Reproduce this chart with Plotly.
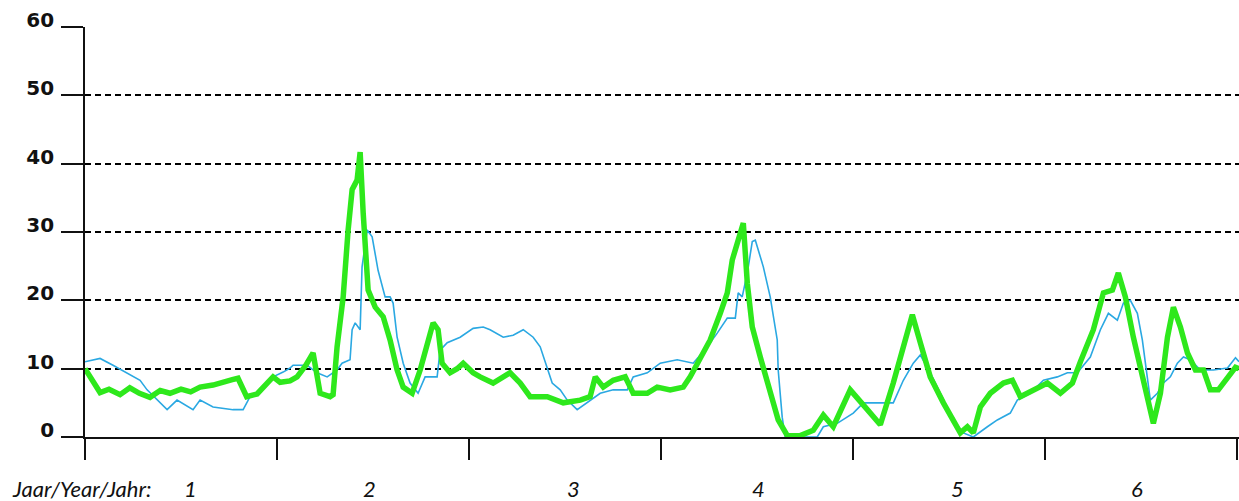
import plotly.graph_objects as go

# x in months since start (12 months per year), y values
green_x = [0, 0.5, 0.94, 1.5, 2.19, 2.8, 3.4, 4.06, 4.7, 5.31, 6, 6.6, 7.19, 8, 8.6, 9.2, 9.56,
           10.1, 10.75, 11.2, 11.75, 12.19, 12.81, 13.25, 13.8, 14.25, 14.69, 15.31, 15.5, 15.75,
           16.13, 16.44, 16.69, 17, 17.19, 17.38, 17.69, 18.13, 18.63, 19.06, 19.5, 19.88, 20.44,
           20.94, 21.38, 21.75, 22.06, 22.31, 22.81, 23.25, 23.63, 24.25, 24.69, 25.5, 26.56, 27.19,
           27.81, 28.88, 29.88, 30.94, 31.56, 31.88, 32.38, 33, 33.75, 34.25, 35.13, 35.75, 36.56,
           37.38, 37.81, 38.44, 39.06, 39.69, 40.13, 40.44, 40.75, 41.06, 41.13, 41.38, 41.69,
           42.19, 42.81, 43.31, 43.88, 44.69, 45.5, 46.13, 46.75, 47.81, 48.88, 49.69, 50.5, 51.13,
           51.69, 52.19, 52.81, 53.63, 54.69, 55.13, 55.5, 55.94, 56.56, 57.38, 57.94, 58.44, 59.25,
           60.13, 60.94, 61.69, 62.19, 63, 63.63, 64.19, 64.56, 65, 65.5, 66.06, 66.44, 66.75,
           67.19, 67.63, 68, 68.44, 68.88, 69.38, 69.88, 70.31, 70.81, 71.38, 71.88, 72.1]
green_y = [10.0, 8.0, 6.5, 7.0, 6.2, 7.2, 6.4, 5.8, 6.8, 6.4, 7.0, 6.6, 7.3, 7.6, 7.9, 8.4, 8.6,
           5.9, 6.3, 7.4, 8.8, 8.0, 8.2, 8.8, 10.5, 12.3, 6.4, 5.9, 6.2, 13.2,
           20.5, 30.3, 36.2, 37.6, 41.7, 32.8, 21.5, 19.0, 17.6, 14.2, 9.8, 7.3, 6.4,
           9.8, 13.2, 16.7, 15.7, 10.8, 9.4, 10.0, 10.8, 9.4, 8.8, 7.9, 9.4, 7.9,
           5.9, 5.9, 5.0, 5.4, 5.9, 8.8, 7.3, 8.3, 8.8, 6.4, 6.4, 7.3, 6.9,
           7.3, 8.8, 11.7, 14.2, 18.1, 21.1, 25.9, 28.4, 30.7, 31.3, 22.5, 16.1,
           11.7, 6.9, 2.5, 0.2, 0.2, 1.0, 3.2, 1.5, 6.9, 4.0, 1.8, 7.9, 13.2,
           17.9, 13.8, 8.8, 5.0, 0.6, 1.5, 0.6, 4.4, 6.4, 7.9, 8.3, 5.9, 6.9,
           7.9, 6.4, 7.9, 11.0, 15.7, 21.1, 21.5, 24.0, 20.5, 14.6, 8.8, 5.4, 2.0,
           6.4, 14.6, 19.0, 16.1, 12.3, 9.8, 9.8, 6.9, 6.9, 8.8, 10.2, 10.0]

blue_x = [0, 0.94, 1.75, 2.63, 3.44, 3.88, 4.69, 5.13, 5.75, 6.75, 7.19, 8, 9.25, 9.88, 10.31,
          10.94, 11.75, 12.38, 12.81, 13, 13.88, 14.5, 15.13, 15.75, 16.06, 16.56, 16.69, 16.88,
          17.19, 17.31, 17.63, 17.94, 18.31, 18.75, 19.06, 19.25, 19.5, 19.88, 20.31, 20.81,
          21.25, 22, 22.19, 22.63, 23.44, 24.25, 24.88, 25.31, 26.13, 26.75, 27.38, 28, 28.44,
          28.88, 29.19, 29.69, 30.13, 30.75, 31.38, 32.19, 33, 33.88, 34.25, 35.13, 35.94, 37,
          38, 38.88, 39.5, 40.13, 40.63, 40.81, 41.06, 41.38, 41.69, 41.88, 42.38, 42.81, 43.25,
          43.31, 43.56, 43.75, 45.75, 46.13, 47, 48, 48.63, 50.5, 51.13, 51.75, 52.19, 52.81,
          53.44, 54.25, 54.88, 55.5, 56.38, 57, 57.81, 58.25, 59.06, 59.88, 60.75, 61.38, 62,
          62.81, 63.44, 63.94, 64.5, 64.88, 65.31, 65.75, 66.06, 66.38, 66.56, 67, 67.38, 67.81,
          68.25, 68.63, 69.06, 69.69, 70.5, 71.38, 71.88, 72.1]
blue_y = [11.0, 11.5, 10.5, 9.4, 8.3, 6.9, 5.0, 4.0, 5.4, 4.0, 5.4, 4.4, 4.0, 4.0, 5.9,
          6.9, 8.8, 9.5, 10.1, 10.5, 10.5, 9.4, 8.8, 9.8, 10.8, 11.3, 15.7, 16.7,
          15.7, 24.9, 30.3, 29.3, 24.4, 20.5, 20.5, 19.6, 14.6, 10.8, 7.9, 6.4,
          8.8, 8.8, 12.7, 13.8, 14.6, 15.9, 16.1, 15.7, 14.6, 14.9, 15.7, 14.6, 13.2,
          10.2, 7.9, 6.9, 5.4, 4.0, 5.0, 6.4, 6.9, 6.9, 8.8, 9.4, 10.8, 11.3,
          10.8, 13.2, 15.2, 17.4, 17.4, 21.1, 20.5, 24.0, 28.6, 28.8, 24.9, 20.5, 14.2,
          9.8, 2.9, 0.0, 0.0, 1.5, 2.0, 3.5, 5.0, 5.0, 8.3, 10.8, 12.0, 9.4,
          6.4, 2.5, 0.6, 0.0, 1.5, 2.5, 3.5, 5.4, 6.4, 8.3, 8.8, 9.4, 9.4,
          11.7, 15.7, 18.1, 17.1, 19.6, 20.0, 18.1, 14.2, 8.8, 5.4, 6.4, 7.9, 8.8,
          10.8, 11.7, 11.3, 9.8, 9.8, 10.1, 11.6, 11.0]

y_ticks = [0, 10, 20, 30, 40, 50, 60]
x_ticks = [0, 12, 24, 36, 48, 60, 72]
year_labels = ["1", "2", "3", "4", "5", "6"]
year_label_pos = [6.56, 17.8, 30.5, 42.1, 54.5, 65.75]
axis_caption = "Jaar/Year/Jahr:"

fig = go.Figure()
fig.add_trace(go.Scatter(x=blue_x, y=blue_y, mode="lines",
                         line=dict(color="#2aa8e2", width=1.6), showlegend=False))
fig.add_trace(go.Scatter(x=green_x, y=green_y, mode="lines",
                         line=dict(color="#2ee81c", width=5.5), showlegend=False))

fig.update_layout(
    width=1239, height=501,
    margin=dict(l=85, r=0, t=27, b=64),
    paper_bgcolor="white", plot_bgcolor="white",
    showlegend=False,
)
fig.update_xaxes(
    range=[0, 72.1], tickvals=x_ticks, ticktext=[""] * len(x_ticks),
    ticks="outside", ticklen=21, tickwidth=1.6, tickcolor="#111",
    showline=True, linecolor="#111", linewidth=1.6,
    showgrid=False, zeroline=False, fixedrange=True,
)
fig.update_yaxes(
    range=[0, 60], tickvals=y_ticks,
    ticks="outside", ticklen=22, tickwidth=1.6, tickcolor="#111",
    showline=True, linecolor="#111", linewidth=1.6,
    showgrid=True, gridcolor="#000", gridwidth=1.6, griddash="6px,4px",
    zeroline=False, fixedrange=True,
    tickfont=dict(family="DejaVu Sans", size=20, color="#111", weight="bold"),
    ticklabelposition="outside",
    ticklabelshift=-7,
    ticklabelstandoff=3,
)

annotations = [dict(text=axis_caption, xref="paper", yref="paper",
                    x=-0.065, y=-0.125, xanchor="left", yanchor="middle",
                    showarrow=False,
                    font=dict(family="Lato", size=22, color="#111", style="italic"))]
for lbl, pos in zip(year_labels, year_label_pos):
    annotations.append(dict(text=lbl, xref="x", yref="paper", x=pos, y=-0.125,
                            xanchor="center", yanchor="middle", showarrow=False,
                            font=dict(family="Lato", size=22, color="#111", style="italic")))
fig.update_layout(annotations=annotations)

fig.write_html("out.html",
               config={"displayModeBar": False},
               post_script="document.body.style.margin='0';document.body.style.overflow='hidden';")
